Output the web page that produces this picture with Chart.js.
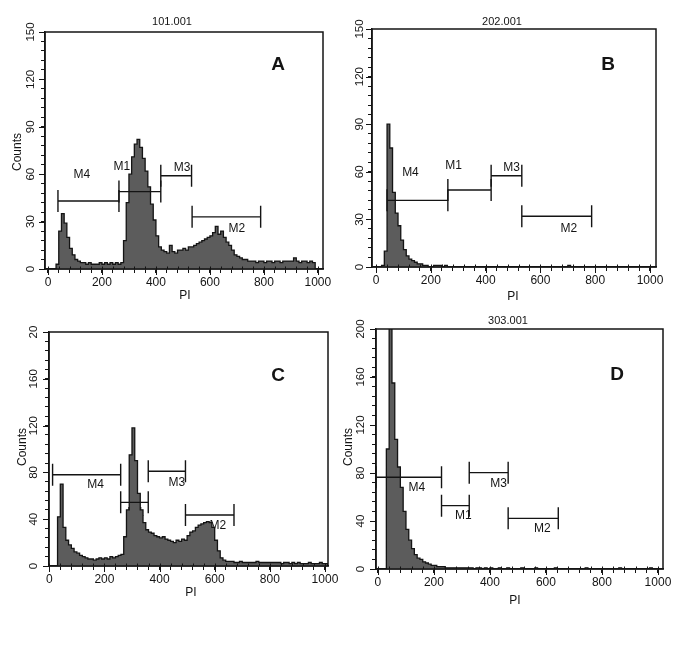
<!DOCTYPE html>
<html><head><meta charset="utf-8">
<script src="https://cdn.jsdelivr.net/npm/chart.js@4.4.1/dist/chart.umd.min.js"></script>
<style>
html,body{margin:0;padding:0;background:#fff;}
#wrap{position:relative;width:685px;height:649px;overflow:hidden;background:#fff;}
canvas{position:absolute;}
</style></head><body><div id="wrap">
<canvas id="cA"></canvas><canvas id="cB"></canvas><canvas id="cC"></canvas><canvas id="cD"></canvas>
</div>
<script>
// ---- DATA ----
const binWidth = 10;
const channels = Array.from({length: 103}, (_, i) => i * binWidth); // bin starts 0..1020 (PI channel)

const countsA = [0,0,0,3,24,35,29,20,13,9, 6,5,4,4,3,4,3,3,3,4, 3,4,3,4,3,4,3,4,18,42,
  60,71,79,82,77,70,62,52,41,31, 21,14,12,11,10,15,11,10,12,12, 13,12,14,14,15,16,17,18,19,20,
  21,23,27,22,24,20,17,15,12,9, 8,7,6,6,5,5,5,4,5,5, 4,5,5,4,5,5,4,5,5,5,
  5,7,5,4,5,5,4,5,4,0, 0,0,0];
const countsB = [0,0,1,10,90,75,47,34,26,17, 11,7,5,4,3,2,2,1,1,0, 0,1,1,1,0,1,0,0,0,0,
  0,0,0,0,0,0,0,0,0,0, 0,0,0,0,0,0,0,0,0,0, 0,0,0,0,0,0,0,0,0,0,
  0,0,0,0,0,0,0,0,0,0, 1,0,0,0,0,0,0,0,0,0, 0,0,0,0,0,0,0,0,0,0,
  0,0,0,0,0,0,0,0,0,0, 0,0,0];
const countsC = [0,0,0,42,70,33,22,18,15,12, 11,9,8,7,6,6,5,6,7,6, 7,6,8,7,8,9,10,25,48,95,
  118,90,62,48,37,31,29,28,26,25, 24,25,23,22,21,20,22,21,23,22, 26,29,30,33,35,36,37,38,37,33,
  22,13,7,5,4,4,4,3,3,4, 3,3,3,3,3,4,3,3,3,3, 3,3,3,3,2,3,3,2,3,2,
  3,2,2,2,3,2,2,2,3,2, 2,0,0];
const countsD = [0,0,0,100,230,155,108,85,68,48, 33,24,17,12,9,8,6,5,4,3, 3,2,2,2,1,1,1,1,1,1,
  1,1,1,1,0,1,1,0,1,0, 1,0,0,1,0,0,1,0,0,0, 0,1,0,0,0,0,1,0,0,0,
  0,0,0,1,0,0,0,0,0,0, 0,0,0,0,1,0,0,0,0,0, 0,0,0,0,0,0,1,0,0,0,
  0,0,0,0,0,0,0,1,0,0, 0,0,0];

const panelTitles = ['101.001', '202.001', '', '303.001'];
const panelLetters = ['A', 'B', 'C', 'D'];
const xAxisTitle = 'PI';
const yAxisTitle = 'Counts';

const gateNames = ['M4', 'M1', 'M3', 'M2'];
const gateStartA = [37, 263, 418, 534], gateEndA = [263, 418, 532, 788], gateLevelA = [43, 49, 59, 33];
const gateStartB = [40, 262, 420, 532], gateEndB = [262, 420, 532, 787], gateLevelB = [42, 48.5, 57.5, 32];
const gateStartC = [12, 259, 359, 494], gateEndC = [259, 359, 494, 670], gateLevelC = [78, 54.4, 81, 43.6];
const gateStartD = [-7, 227, 326, 465], gateEndD = [227, 326, 465, 644], gateLevelD = [76.4, 52.8, 80.3, 42.2];

const xMajorTicks = [0, 200, 400, 600, 800, 1000];
const xMinorTicks = [0,40,80,120,160,200,240,280,320,360,400,440,480,520,560,600,640,680,720,760,800,840,880,920,960,1000];
const yMajorTicksAB = [0, 30, 60, 90, 120, 150];
const yTickLabelsAB = ['0', '30', '60', '90', '120', '150'];
const yMinorTicksAB = [0,6,12,18,24,30,36,42,48,54,60,66,72,78,84,90,96,102,108,114,120,126,132,138,144,150];
const yMajorTicksCD = [0, 40, 80, 120, 160, 200];
const yTickLabelsC = ['0', '40', '80', '120', '160', '20'];
const yTickLabelsD = ['0', '40', '80', '120', '160', '200'];
const yMinorTicksCD = [0,8,16,24,32,40,48,56,64,72,80,88,96,104,112,120,128,136,144,152,160,168,176,184,192,200];

// ---- LAYOUT (page pixel positions / styles) ----
const FONT = "'Liberation Sans', Arial, Helvetica, sans-serif";
const panels = [
  { id:'cA', left:0, top:0, w:342, h:305, padTop:32, padRight:19, padBottom:0, yAxisW:45, xAxisH:36,
    xMin:-11, xMax:1019, yMax:150, counts:countsA, title:panelTitles[0], letter:panelLetters[0],
    gs:gateStartA, ge:gateEndA, gl:gateLevelA, lblOff:[[-6.5,-26],[-18,-25],[6,-8],[10.5,12]],
    yMajor:yMajorTicksAB, yLabels:yTickLabelsAB, yMinor:yMinorTicksAB,
    titlePos:[172,22], letterPos:[278,65], countsPos:[18,152], yLabelX:30.5, piPos:[185,296] },
  { id:'cB', left:342, top:0, w:343, h:305, padTop:29, padRight:29, padBottom:0, yAxisW:30, xAxisH:38,
    xMin:-15, xMax:1022, yMax:150, counts:countsB, title:panelTitles[1], letter:panelLetters[1],
    gs:gateStartB, ge:gateEndB, gl:gateLevelB, lblOff:[[-7,-28],[-16,-24],[5,-8],[12,12]],
    yMajor:yMajorTicksAB, yLabels:yTickLabelsAB, yMinor:yMinorTicksAB,
    titlePos:[502,22], letterPos:[608,65], countsPos:null, yLabelX:360, piPos:[513,297] },
  { id:'cC', left:0, top:305, w:342, h:344, padTop:27, padRight:14, padBottom:43, yAxisW:49, xAxisH:40,
    xMin:-1, xMax:1011, yMax:200, counts:countsC, title:panelTitles[2], letter:panelLetters[2],
    gs:gateStartC, ge:gateEndC, gl:gateLevelC, lblOff:[[9,10],[1,10],[10,11],[8,11]],
    yMajor:yMajorTicksCD, yLabels:yTickLabelsC, yMinor:yMinorTicksCD,
    titlePos:null, letterPos:[278,376], countsPos:[22.5,447], yLabelX:33.5, piPos:[191,593] },
  { id:'cD', left:342, top:305, w:343, h:344, padTop:24, padRight:22, padBottom:40, yAxisW:34, xAxisH:40,
    xMin:-7, xMax:1018, yMax:200, counts:countsD, title:panelTitles[3], letter:panelLetters[3],
    gs:gateStartD, ge:gateEndD, gl:gateLevelD, lblOff:[[8,10],[8,10],[10,11],[9,10]],
    yMajor:yMajorTicksCD, yLabels:yTickLabelsD, yMinor:yMinorTicksCD,
    titlePos:[508,321], letterPos:[617,375], countsPos:[349,447], yLabelX:361, piPos:[515,601] }
];

function makePanel(cfg) {
  const canvas = document.getElementById(cfg.id);
  canvas.width = cfg.w; canvas.height = cfg.h;
  canvas.style.width = cfg.w + 'px'; canvas.style.height = cfg.h + 'px';
  canvas.style.left = cfg.left + 'px'; canvas.style.top = cfg.top + 'px';
  const pts = channels.map((c, i) => ({ x: c, y: cfg.counts[i] }));
  pts.push({ x: channels[channels.length - 1] + binWidth, y: 0 });
  const ink = '#141414';

  const decor = {
    id: 'decor',
    beforeDatasetsDraw(chart) {
      const ctx = chart.ctx, xs = chart.scales.x, ys = chart.scales.y;
      ctx.save();
      ctx.fillStyle = ink; ctx.font = '12px ' + FONT;
      ctx.textAlign = 'center'; ctx.textBaseline = 'middle';
      gateNames.forEach((n, i) => {
        const mx = (xs.getPixelForValue(cfg.gs[i]) + xs.getPixelForValue(cfg.ge[i])) / 2;
        const my = ys.getPixelForValue(cfg.gl[i]);
        ctx.fillText(n, mx + cfg.lblOff[i][0], my + cfg.lblOff[i][1]);
      });
      ctx.restore();
    },
    afterDatasetsDraw(chart) {
      const ctx = chart.ctx, xs = chart.scales.x, ys = chart.scales.y;
      ctx.save();
      ctx.strokeStyle = ink; ctx.lineWidth = 1.4;
      gateNames.forEach((n, i) => {
        const x1 = xs.getPixelForValue(cfg.gs[i]), x2 = xs.getPixelForValue(cfg.ge[i]);
        const y = ys.getPixelForValue(cfg.gl[i]);
        ctx.beginPath();
        ctx.moveTo(x1, y); ctx.lineTo(x2, y);
        ctx.moveTo(x1, y - 11); ctx.lineTo(x1, y + 11);
        ctx.moveTo(x2, y - 11); ctx.lineTo(x2, y + 11);
        ctx.stroke();
      });
      ctx.restore();
    },
    afterDraw(chart) {
      const ctx = chart.ctx, ca = chart.chartArea, xs = chart.scales.x, ys = chart.scales.y;
      const ox = cfg.left, oy = cfg.top;
      ctx.save();
      ctx.strokeStyle = ink; ctx.lineWidth = 1.5;
      ctx.strokeRect(ca.left, ca.top, ca.right - ca.left, ca.bottom - ca.top);
      // inner tick stubs and longer major ticks
      ctx.lineWidth = 1;
      ctx.beginPath();
      xMinorTicks.forEach(v => {
        const px = Math.round(xs.getPixelForValue(v)) + 0.5;
        ctx.moveTo(px, ca.bottom); ctx.lineTo(px, ca.bottom - 2.5);
      });
      xMajorTicks.forEach(v => {
        const px = Math.round(xs.getPixelForValue(v)) + 0.5;
        ctx.moveTo(px, ca.bottom); ctx.lineTo(px, ca.bottom + 6);
      });
      cfg.yMajor.forEach(v => {
        const py = Math.round(ys.getPixelForValue(v)) + 0.5;
        ctx.moveTo(ca.left, py); ctx.lineTo(ca.left - 6, py);
      });
      ctx.stroke();
      ctx.fillStyle = ink;
      ctx.textAlign = 'center'; ctx.textBaseline = 'middle';
      // rotated y tick labels
      ctx.font = '11.5px ' + FONT;
      cfg.yMajor.forEach((v, i) => {
        ctx.save();
        ctx.translate(cfg.yLabelX - ox, ys.getPixelForValue(v));
        ctx.rotate(-Math.PI / 2);
        ctx.fillText(cfg.yLabels[i], 0, 0);
        ctx.restore();
      });
      ctx.font = '12px ' + FONT;
      if (cfg.countsPos) {
        ctx.save();
        ctx.translate(cfg.countsPos[0] - ox, cfg.countsPos[1] - oy);
        ctx.rotate(-Math.PI / 2);
        ctx.fillText(yAxisTitle, 0, 0);
        ctx.restore();
      }
      ctx.fillText(xAxisTitle, cfg.piPos[0] - ox, cfg.piPos[1] - oy);
      if (cfg.titlePos && cfg.title) {
        ctx.font = '11px ' + FONT;
        ctx.fillText(cfg.title, cfg.titlePos[0] - ox, cfg.titlePos[1] - oy);
      }
      ctx.font = 'bold 19px ' + FONT;
      ctx.fillText(cfg.letter, cfg.letterPos[0] - ox, cfg.letterPos[1] - oy);
      ctx.restore();
    }
  };

  return new Chart(canvas, {
    type: 'line',
    data: { datasets: [{ data: pts, stepped: true, fill: 'origin',
      backgroundColor: '#5c5c5c', borderColor: '#141414', borderWidth: 1.3,
      pointRadius: 0, pointHoverRadius: 0 }] },
    options: {
      responsive: false, animation: false, devicePixelRatio: 1,
      events: [],
      layout: { padding: { left: 0, top: cfg.padTop, right: cfg.padRight, bottom: cfg.padBottom } },
      plugins: { legend: { display: false }, tooltip: { enabled: false }, title: { display: false } },
      scales: {
        x: {
          type: 'linear', min: cfg.xMin, max: cfg.xMax,
          afterBuildTicks: s => { s.ticks = xMinorTicks.map(v => ({ value: v })); },
          afterFit: s => { s.height = cfg.xAxisH; s.paddingLeft = 0; s.paddingRight = 0; },
          ticks: { autoSkip: false, minRotation: 0, maxRotation: 0, color: ink, padding: 2,
            font: { family: FONT, size: 12 },
            callback: v => xMajorTicks.includes(v) ? String(v) : '' },
          grid: { display: true, drawOnChartArea: false, drawTicks: true, tickLength: 4, color: ink, lineWidth: 1 },
          border: { display: true, color: ink, width: 1.5 }
        },
        y: {
          type: 'linear', min: 0, max: cfg.yMax,
          afterBuildTicks: s => { s.ticks = cfg.yMinor.map(v => ({ value: v })); },
          afterFit: s => { s.width = cfg.yAxisW; s.paddingTop = 0; s.paddingBottom = 0; },
          ticks: { autoSkip: false, callback: () => '' },
          grid: { display: true, drawOnChartArea: false, drawTicks: true, tickLength: 4, color: ink, lineWidth: 1 },
          border: { display: true, color: ink, width: 1.5 }
        }
      }
    },
    plugins: [decor]
  });
}
panels.forEach(makePanel);
</script>
</body></html>
